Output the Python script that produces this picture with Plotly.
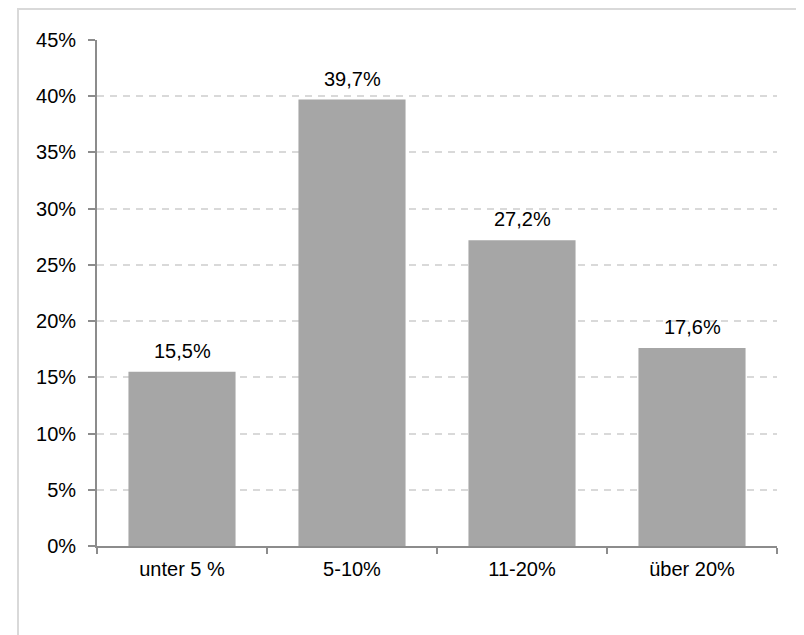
import plotly.graph_objects as go

categories = ["unter 5 %", "5-10%", "11-20%", "über 20%"]
values = [15.5, 39.7, 27.2, 17.6]
y_ticks = [0, 5, 10, 15, 20, 25, 30, 35, 40, 45]
y_tick_labels = [f"{t}%" for t in y_ticks]

FONT = "Liberation Sans, Arial, sans-serif"
FS = 20

# page is offset by the default 8px body margin; plot area in figure coords
L, R, T, B = 89, 769, 32, 538
W, H = 804, 635
PW, PH = R - L, B - T

fig = go.Figure()
fig.add_trace(go.Bar(
    x=categories, y=values,
    marker=dict(color="#a6a6a6", line=dict(width=0)),
    width=0.63,
    hoverinfo="skip",
))

for c, v in zip(categories, values):
    fig.add_annotation(
        x=c, y=v, text=f"{v:.1f}%".replace(".", ","),
        showarrow=False, yanchor="bottom", yshift=8,
        font=dict(family=FONT, size=FS, color="#000000"),
    )

fig.update_layout(
    width=W, height=H,
    margin=dict(l=L, r=W - R, t=T, b=H - B, autoexpand=False),
    paper_bgcolor="white", plot_bgcolor="white",
    showlegend=False,
    font=dict(family=FONT, size=FS, color="#000000"),
    xaxis=dict(
        type="category",
        showline=True, linecolor="#8c8c8c", linewidth=1.8,
        ticks="outside", tickson="boundaries", ticklen=6, tickcolor="#8c8c8c",
        tickwidth=1.8,
        showgrid=False,
        ticklabelstandoff=4,
        tickfont=dict(family=FONT, size=FS, color="#000000"),
    ),
    yaxis=dict(
        range=[0, 45], tickvals=y_ticks, ticktext=y_tick_labels,
        showline=True, linecolor="#8c8c8c", linewidth=1.8,
        ticks="outside", ticklen=7, tickcolor="#8c8c8c", tickwidth=1.8,
        showgrid=True, gridcolor="#d9d9d9", griddash="7px,6px", gridwidth=1.6,
        zeroline=False,
        ticklabelstandoff=8,
        tickfont=dict(family=FONT, size=FS, color="#000000"),
    ),
)

# outer chart border (light gray frame)
fig.add_shape(type="rect", xref="paper", yref="paper",
              x0=(10 - L) / PW, x1=(820 - L) / PW,
              y0=(B - 720) / PH, y1=(B - 1) / PH,
              line=dict(color="#d9d9d9", width=2), layer="below")

fig.write_html("out.html")
